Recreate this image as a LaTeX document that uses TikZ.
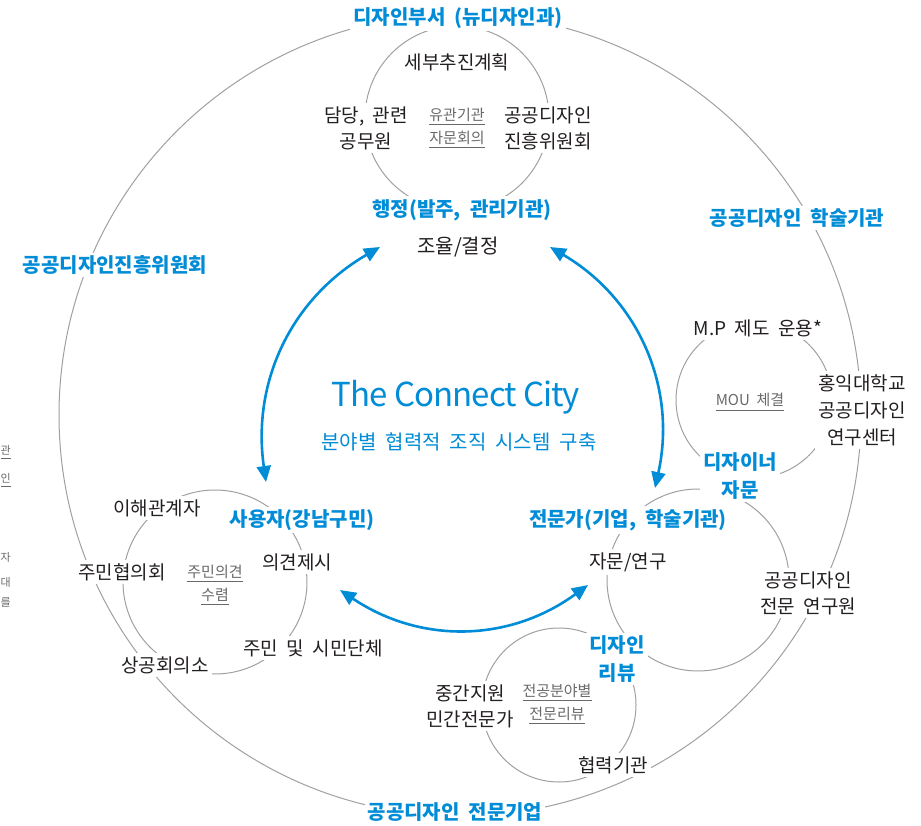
\documentclass[tikz,border=0pt]{standalone}
\usepackage{fontspec}
\setmainfont{Noto Sans CJK KR}[WordSpace=2]
\newfontfamily\titlefont{Noto Sans CJK KR}[LetterSpace=-3]
\usepackage{tikz}
\usetikzlibrary{arrows.meta,positioning}

\definecolor{keyblue}{RGB}{0,140,214}
\definecolor{ink}{RGB}{35,31,32}
\definecolor{ringgray}{RGB}{160,160,160}
\definecolor{notegray}{RGB}{105,105,105}
\newcommand{\uln}[1]{\vtop{\hbox{#1}\kern2.5pt\hrule height 0.8pt}}

\begin{document}
\begin{tikzpicture}[x=1pt,y=1pt,
  ring/.style={draw=ringgray,line width=1pt},
  grp/.style={text=keyblue,fill=white,inner sep=3pt,align=center,font=\bfseries\fontsize{20}{28}\selectfont},
  lbl/.style={text=ink,fill=white,inner sep=3pt,align=center,font=\fontsize{19}{26}\selectfont},
  note/.style={text=notegray,inner sep=1pt,align=center,font=\fontsize{15}{23}\selectfont},
  link/.style={keyblue,line width=2.6pt,{Triangle[length=16pt,width=14pt]}-{Triangle[length=16pt,width=14pt]}}]
  \useasboundingbox (0,0) rectangle (921,-826);
  % rings
  \draw[ring] (460,-415) circle[radius=401];
  \draw[ring] (457,-118) circle[radius=92];
  \draw[ring] (754,-400) circle[radius=78];
  \draw[ring] (698,-580) circle[radius=91];
  \draw[ring] (215,-582) circle[radius=92];
  \draw[ring] (559,-705) circle[radius=77];
  % top group
  \node[grp] (dept) at (458,-18) {디자인부서 (뉴디자인과)};
  \node[lbl] (plan) at (457,-62) {세부추진계획};
  \node[lbl] (staff) at (366,-128) {담당, 관련\\공무원};
  \node[note] (adv) at (457,-128) {\uln{유관기관}\\\uln{자문회의}};
  \node[lbl] (kidp) at (548,-128) {공공디자인\\진흥위원회};
  \node[grp] (admin) at (462,-210) {행정(발주, 관리기관)};
  \node[lbl,font=\fontsize{20}{26}\selectfont] (decide) at (458,-247) {조율/결정};
  % center
  \node[text=keyblue,font=\titlefont\fontsize{33}{40}\selectfont] (title) at (456,-397) {The Connect City};
  \node[text=keyblue,font=\fontsize{20}{24}\selectfont] (sub) at (459,-442) {분야별 협력적 조직 시스템 구축};
  % outer ring
  \node[grp] (council) at (115,-265) {공공디자인진흥위원회};
  \node[grp] (academy) at (797,-218) {공공디자인 학술기관};
  \node[grp] (firm) at (455,-812) {공공디자인 전문기업};
  % right group
  \node[lbl] (mp) at (758,-328) {M.P 제도 운용*};
  \node[lbl,font=\fontsize{19}{27}\selectfont] (hongik) at (862,-410) {홍익대학교\\공공디자인\\연구센터};
  \node[note] (mou) at (750,-402) {\uln{MOU 체결}};
  \node[grp] (designer) at (740,-476) {디자이너\\자문};
  \node[grp] (expert) at (628,-520) {전문가(기업, 학술기관)};
  \node[lbl] (consult) at (628,-562) {자문/연구};
  \node[lbl] (researcher) at (808,-593) {공공디자인\\전문 연구원};
  \node[grp] (review) at (617,-659) {디자인\\리뷰};
  \node[lbl] (mentor) at (470,-706) {중간지원\\민간전문가};
  \node[note] (field) at (557,-704) {\uln{전공분야별}\\\uln{전문리뷰}};
  \node[lbl] (partner) at (613,-765) {협력기관};
  % left group
  \node[grp] (user) at (302,-520) {사용자(강남구민)};
  \node[lbl] (stake) at (157,-508) {이해관계자};
  \node[lbl] (opinion) at (297,-562) {의견제시};
  \node[lbl] (resident) at (122,-572) {주민협의회};
  \node[note] (collect) at (215,-585) {\uln{주민의견}\\\uln{수렴}};
  \node[lbl] (civic) at (313,-648) {주민 및 시민단체};
  \node[lbl] (chamber) at (165,-665) {상공회의소};
  % side text at left edge
  \node[note,anchor=west,inner sep=0.5pt,font=\fontsize{11}{14}\selectfont] (side1) at (0,-452) {\uln{관}};
  \node[note,anchor=west,inner sep=0.5pt,font=\fontsize{11}{14}\selectfont] (side2) at (0,-480) {\uln{인}};
  \node[note,anchor=west,inner sep=0.5pt,font=\fontsize{11}{14}\selectfont] (side3) at (0,-557) {자};
  \node[note,anchor=west,inner sep=0.5pt,font=\fontsize{11}{14}\selectfont] (side4) at (0,-582) {대};
  \node[note,anchor=west,inner sep=0.5pt,font=\fontsize{11}{14}\selectfont] (side5) at (0,-602) {를};
  % arrows
  \coordinate (decide-l) at (380,-247);
  \coordinate (decide-r) at (550,-247);
  \coordinate (user-t) at (266,-482);
  \coordinate (user-r) at (340,-590);
  \coordinate (expert-t) at (655,-488);
  \coordinate (expert-l) at (588,-585);
  \draw[link] (decide-l) to[bend right=34] (user-t);
  \draw[link] (decide-r) to[bend left=36] (expert-t);
  \draw[link] (user-r) to[bend right=35] (expert-l);
\end{tikzpicture}
\end{document}
